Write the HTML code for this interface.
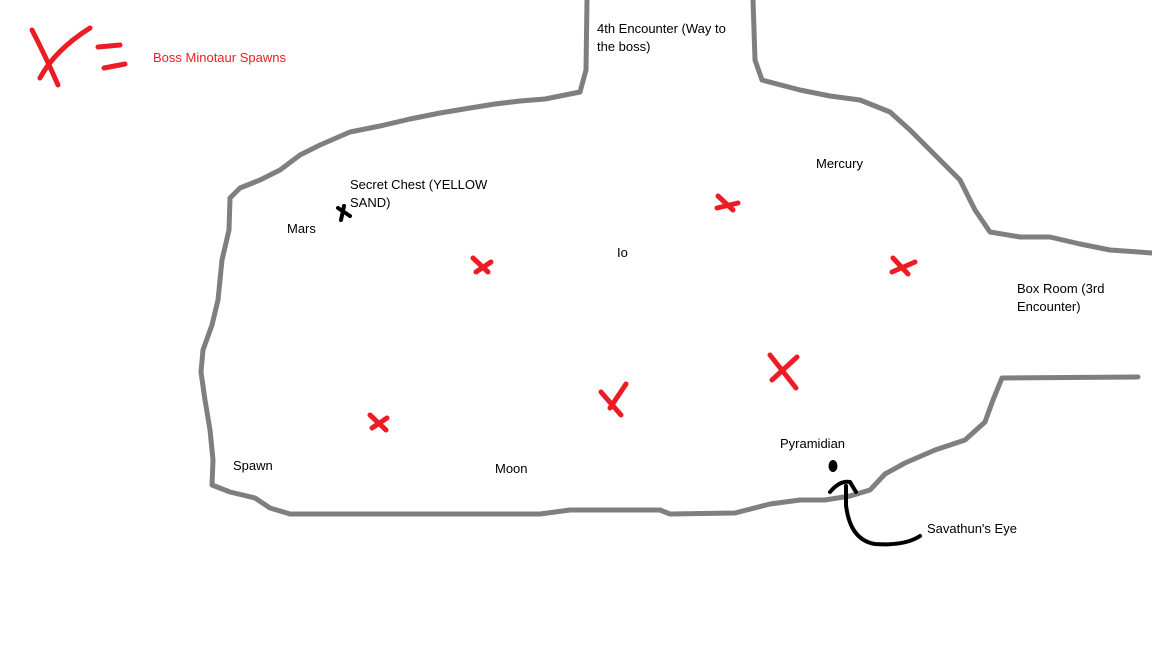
<!DOCTYPE html>
<html><head><meta charset="utf-8"><style>
html,body{margin:0;padding:0;background:#fff;}
svg{display:block}
text{font-family:"Liberation Sans",sans-serif;font-size:13px;fill:#000}
</style></head><body>
<svg width="1152" height="648" viewBox="0 0 1152 648" xmlns="http://www.w3.org/2000/svg">
<rect width="1152" height="648" fill="#fff"/>
<g fill="none" stroke="#7f7f7f" stroke-width="5" stroke-linejoin="round" stroke-linecap="round">
<polyline points="587,0 586,70 580,92 545,99 520,101 495,104 470,108 440,113 410,119 380,126 350,132 320,145 300,155 280,170 260,180 240,188 230,198 229,230 222,260 218,300 212,325 203,350 201,372 205,400 210,430 213,460 212,485 230,492 255,498 270,508 290,514 540,514 570,510 660,510 670,514 735,513 770,504 800,500 825,500 850,496 870,490 885,474 905,463 935,450 965,440 985,422 993,400 1002,378 1138,377"/>
<polyline points="753,0 755,60 762,80 800,90 830,96 860,100 890,112 910,130 935,155 960,180 975,210 990,232 1020,237 1050,237 1080,244 1110,250 1152,253"/>
</g>
<g fill="none" stroke="#ed1c24" stroke-width="5" stroke-linecap="round">
<path d="M32,30 Q45,55 58,85 M40,78 Q55,50 90,28"/>
<path d="M98,47 L120,45 M104,68 L125,64"/>
<path d="M473,258 L488,272 M476,272 L491,262"/>
<path d="M718,196 L733,210 M717,208 L738,203"/>
<path d="M893,258 L908,274 M892,272 L915,262"/>
<path d="M770,355 L796,388 M772,380 L797,357"/>
<path d="M601,392 L621,415 M610,408 L626,384"/>
<path d="M370,415 L386,430 M372,428 L387,418"/>
</g>
<text x="153" y="62" style="fill:#ed1c24;font-size:13px">Boss Minotaur Spawns</text>
<text x="597" y="33">4th Encounter (Way to</text>
<text x="597" y="51">the boss)</text>
<text x="816" y="168">Mercury</text>
<text x="350" y="189">Secret Chest (YELLOW</text>
<text x="350" y="207">SAND)</text>
<text x="287" y="233">Mars</text>
<text x="617" y="257">Io</text>
<text x="1017" y="293">Box Room (3rd</text>
<text x="1017" y="311">Encounter)</text>
<text x="780" y="448">Pyramidian</text>
<text x="233" y="470">Spawn</text>
<text x="495" y="473">Moon</text>
<text x="927" y="533">Savathun's Eye</text>
<g fill="none" stroke="#000" stroke-width="4" stroke-linecap="round">
<path d="M338,208 L350,216 M344,206 L341,220"/>
<path d="M920,536 Q905,546 875,544 Q850,540 846,505 L846,486 M830,492 Q840,480 850,482 L856,492"/>
</g>
<ellipse cx="833" cy="466" rx="4.5" ry="6" fill="#000"/>
</svg>
</body></html>
